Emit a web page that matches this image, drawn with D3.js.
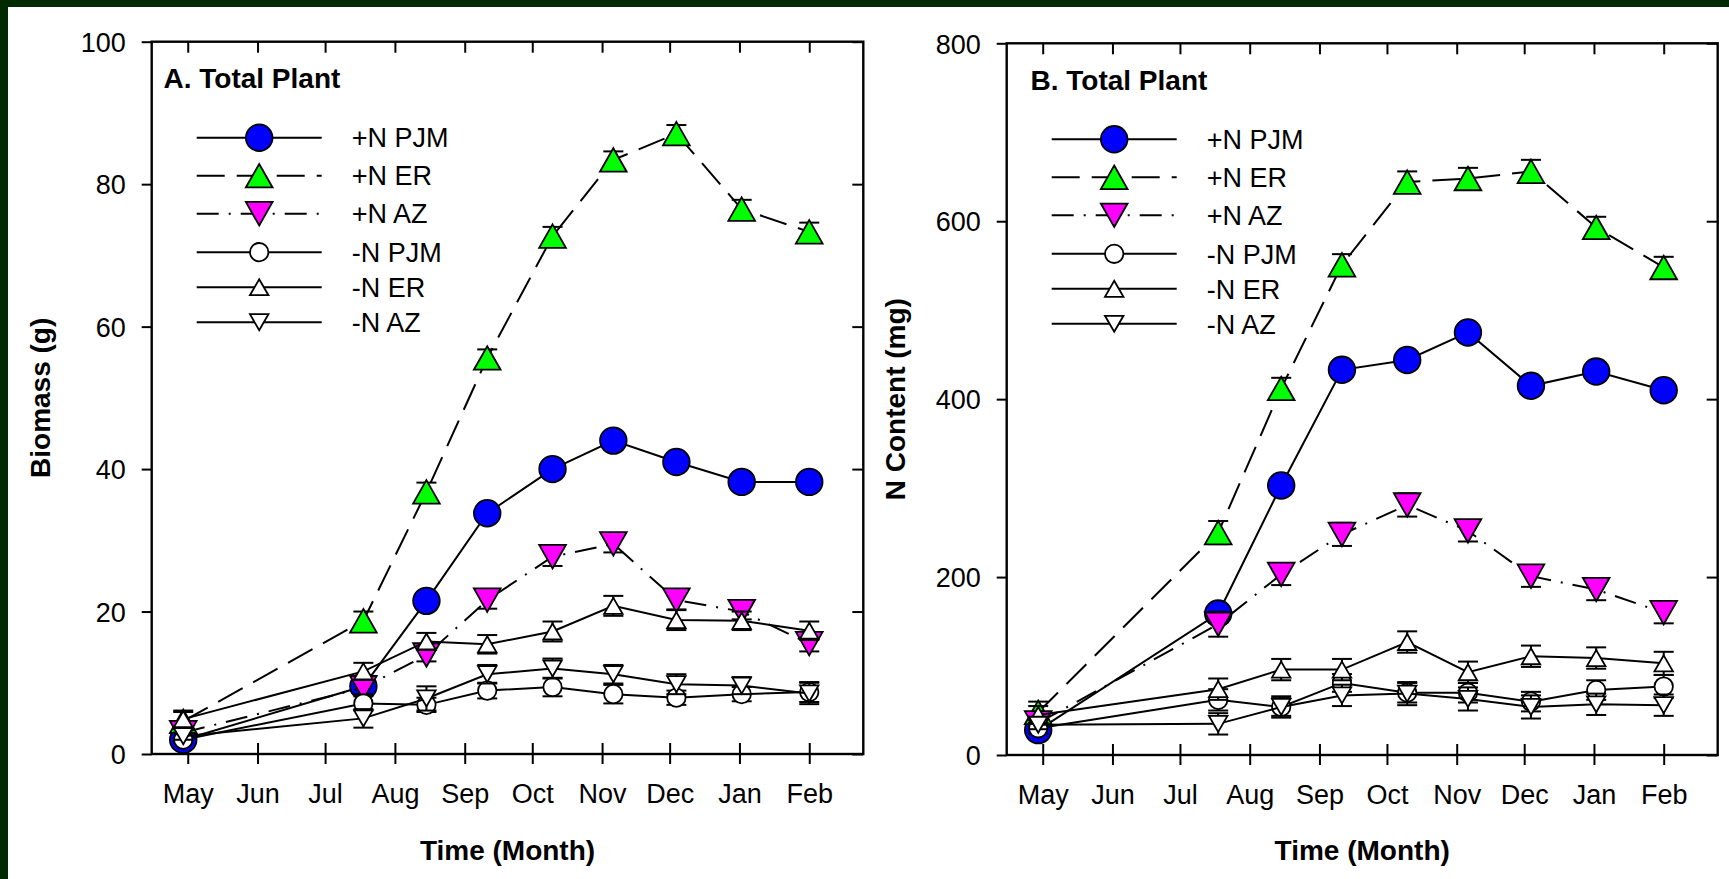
<!DOCTYPE html>
<html>
<head>
<meta charset="utf-8">
<script src="https://cdn.jsdelivr.net/npm/d3@7"></script>
<style>
  html, body { margin: 0; padding: 0; background: #ffffff; }
  svg { display: block; }
  text { font-family: "Liberation Sans", Arial, Helvetica, sans-serif; fill: #000; }
</style>
</head>
<body>
<svg id="fig" width="1729" height="879"></svg>
<script>
// ---- Sampling dates and axis labels ----
const monthLabels = ["May", "Jun", "Jul", "Aug", "Sep", "Oct", "Nov", "Dec", "Jan", "Feb"];
const sampleDates = ["2009-04-29", "2009-07-18", "2009-08-15", "2009-09-11", "2009-10-10",
                     "2009-11-06", "2009-12-04", "2010-01-02", "2010-02-01"];
const seriesNames = ["+N PJM", "+N ER", "+N AZ", "-N PJM", "-N ER", "-N AZ"];

// ---- A. Total plant biomass (g), mean and SE ----
const biomassTicks = [0, 20, 40, 60, 80, 100];
const biomassPlusPJM     = [2.0, 9.5, 21.5, 33.8, 40.0, 44.0, 41.0, 38.2, 38.2];
const biomassPlusPJMErr  = [0.3, 0.8, 1.0, 1.0, 1.1, 1.0, 1.0, 0.9, 0.9];
const biomassPlusER      = [4.6, 18.7, 36.8, 55.6, 72.7, 83.4, 87.1, 76.5, 73.3];
const biomassPlusERErr   = [1.3, 1.3, 1.3, 1.2, 1.3, 1.2, 1.2, 1.3, 1.3];
const biomassPlusAZ      = [3.0, 9.3, 13.9, 21.6, 27.7, 29.5, 21.6, 20.0, 15.5];
const biomassPlusAZErr   = [0.5, 0.9, 0.9, 1.2, 1.3, 1.2, 1.3, 1.1, 1.1];
const biomassMinusPJM    = [2.0, 7.1, 6.9, 8.9, 9.4, 8.4, 7.9, 8.4, 8.7];
const biomassMinusPJMErr = [0.4, 1.0, 1.0, 1.1, 1.3, 1.3, 1.0, 1.0, 1.4];
const biomassMinusER     = [4.9, 11.6, 15.8, 15.4, 17.2, 20.8, 18.8, 18.7, 17.3];
const biomassMinusERErr  = [1.2, 1.2, 1.2, 1.3, 1.4, 1.4, 1.4, 1.3, 1.3];
const biomassMinusAZ     = [2.5, 5.0, 7.8, 11.2, 12.0, 11.2, 9.8, 9.6, 8.5];
const biomassMinusAZErr  = [0.5, 1.3, 1.7, 1.3, 1.4, 1.3, 1.4, 1.2, 1.5];

// ---- B. Total plant N content (mg), mean and SE ----
const nContentTicks = [0, 200, 400, 600, 800];
const nPlusPJM     = [28, 159, 303, 433, 444, 475, 415, 431, 410];
const nPlusPJMErr  = [8, 10, 10, 10, 10, 10, 10, 10, 10];
const nPlusER      = [48, 250, 412, 551, 644, 648, 656, 593, 548];
const nPlusERErr   = [12, 13, 12, 12, 12, 12, 13, 12, 12];
const nPlusAZ      = [36, 147, 203, 248, 281, 252, 201, 186, 160];
const nPlusAZErr   = [6, 14, 12, 13, 13, 12, 12, 12, 12];
const nMinusPJM    = [30, 62, 54, 81, 70, 70, 60, 73, 77];
const nMinusPJMErr = [6, 12, 10, 10, 11, 11, 11, 11, 13];
const nMinusER     = [45, 74, 96, 96, 127, 93, 111, 109, 103];
const nMinusERErr  = [10, 12, 12, 12, 12, 12, 12, 12, 13];
const nMinusAZ     = [34, 35, 54, 67, 69, 63, 54, 57, 56];
const nMinusAZErr  = [5, 12, 12, 12, 13, 13, 13, 12, 12];

// ---- Series appearance (order = drawing order) ----
const seriesStyles = [
  { shape: "circle", size: "big",   fill: "#0000ff", dash: null },
  { shape: "up",     size: "big",   fill: "#00ff00", dash: "28,12" },
  { shape: "down",   size: "big",   fill: "#ff00ff", dash: "22,10,2,10" },
  { shape: "circle", size: "small", fill: "#ffffff", dash: null },
  { shape: "up",     size: "small", fill: "#ffffff", dash: null },
  { shape: "down",   size: "small", fill: "#ffffff", dash: null }
];

const parseDate = d3.timeParse("%Y-%m-%d");
const dates = sampleDates.map(parseDate);
const xDomain = [parseDate("2009-04-15"), parseDate("2010-02-25")];
const monthTicks = d3.timeMonth.range(parseDate("2009-05-01"), parseDate("2010-02-02"));

const svg = d3.select("#fig");
const W = 1729, H = 879;

// page background with dark frame strips on top and left
svg.append("rect").attr("x", 0).attr("y", 0).attr("width", W).attr("height", H).attr("fill", "#ffffff");
svg.append("rect").attr("x", 0).attr("y", 0).attr("width", W).attr("height", 7).attr("fill", "#002a02");
svg.append("rect").attr("x", 0).attr("y", 0).attr("width", 8).attr("height", H).attr("fill", "#002a02");

function markerPath(shape, w, h) {
  if (shape === "up") return `M0,${-h / 2}L${w / 2},${h / 2}L${-w / 2},${h / 2}Z`;
  return `M0,${h / 2}L${w / 2},${-h / 2}L${-w / 2},${-h / 2}Z`;
}
const markerDims = { big: { r: 13.3, w: 26.7, h: 23.5 }, small: { r: 9.2, w: 18.5, h: 16 } };

function drawMarker(g, style, cx, cy) {
  const dm = markerDims[style.size];
  if (style.shape === "circle") {
    g.append("circle").attr("cx", cx).attr("cy", cy).attr("r", dm.r)
      .attr("fill", style.fill).attr("stroke", "#000").attr("stroke-width", 1.8);
  } else {
    g.append("path").attr("d", markerPath(style.shape, dm.w, dm.h))
      .attr("transform", `translate(${cx},${cy})`)
      .attr("fill", style.fill).attr("stroke", "#000").attr("stroke-width", 1.8)
      .attr("stroke-linejoin", "miter");
  }
}

function drawPanel(cfg) {
  const x = d3.scaleTime().domain(xDomain).range([cfg.left, cfg.right]);
  const y = d3.scaleLinear().domain([0, cfg.yMax]).range([cfg.bottom, cfg.top]);
  const g = svg.append("g");

  // axes
  const fontAttrs = sel => sel.attr("font-size", 27).attr("font-family", '"Liberation Sans", Arial, sans-serif');

  const bottomAxis = g.append("g").attr("transform", `translate(0,${cfg.bottom})`)
    .call(d3.axisBottom(x).tickValues(monthTicks).tickFormat((d, i) => monthLabels[i]).tickSizeOuter(0).tickSize(10))
    .call(fontAttrs);
  bottomAxis.selectAll(".tick line").attr("y1", -11).attr("stroke-width", 2);
  bottomAxis.selectAll(".tick text").attr("y", 49).attr("dy", 0);
  bottomAxis.select(".domain").remove();

  const topAxis = g.append("g").attr("transform", `translate(0,${cfg.top})`)
    .call(d3.axisBottom(x).tickValues(monthTicks).tickFormat("").tickSizeOuter(0).tickSize(11));
  topAxis.selectAll(".tick line").attr("stroke-width", 2);
  topAxis.select(".domain").remove();

  const leftAxis = g.append("g").attr("transform", `translate(${cfg.left},0)`)
    .call(d3.axisLeft(y).tickValues(cfg.ticks).tickFormat(d3.format("d")).tickSizeOuter(0).tickSize(10).tickPadding(16))
    .call(fontAttrs);
  leftAxis.selectAll(".tick line").attr("stroke-width", 2);
  leftAxis.selectAll(".tick text").attr("dy", "0.36em");
  leftAxis.select(".domain").remove();

  const rightAxis = g.append("g").attr("transform", `translate(${cfg.right},0)`)
    .call(d3.axisLeft(y).tickValues(cfg.ticks).tickFormat("").tickSizeOuter(0).tickSize(-11));
  rightAxis.selectAll(".tick line").attr("x2", -11).attr("stroke-width", 2);
  rightAxis.select(".domain").remove();

  g.append("rect").attr("x", cfg.left).attr("y", cfg.top)
    .attr("width", cfg.right - cfg.left).attr("height", cfg.bottom - cfg.top)
    .attr("fill", "none").attr("stroke", "#000").attr("stroke-width", 2.4);

  // axis titles
  g.append("text").attr("x", (cfg.left + cfg.right) / 2).attr("y", 860)
    .attr("text-anchor", "middle").attr("font-size", 28).attr("font-weight", "bold")
    .text("Time (Month)");
  g.append("text")
    .attr("transform", `translate(${cfg.left - 101.5},${(cfg.top + cfg.bottom) / 2}) rotate(-90)`)
    .attr("text-anchor", "middle").attr("font-size", 28).attr("font-weight", "bold")
    .text(cfg.yTitle);

  // panel title
  g.append("text").attr("x", cfg.titleX).attr("y", cfg.top + 46.5)
    .attr("font-size", 28).attr("font-weight", "bold").text(cfg.title);

  // data series
  const line = d3.line().x(d => x(d.date)).y(d => y(d.v));
  cfg.series.forEach((s, si) => {
    const st = seriesStyles[si];
    const pts = s.values.map((v, i) => ({ date: dates[i], v, e: s.errors[i] }));
    const sg = g.append("g");
    sg.append("path").attr("d", line(pts)).attr("fill", "none")
      .attr("stroke", "#000").attr("stroke-width", 2)
      .attr("stroke-dasharray", st.dash);
    pts.forEach(p => {
      const cx = x(p.date), y0 = y(p.v - p.e), y1 = y(p.v + p.e);
      sg.append("line").attr("x1", cx).attr("x2", cx).attr("y1", y0).attr("y2", y1)
        .attr("stroke", "#000").attr("stroke-width", 2);
      [y0, y1].forEach(cy => sg.append("line").attr("x1", cx - 10).attr("x2", cx + 10)
        .attr("y1", cy).attr("y2", cy).attr("stroke", "#000").attr("stroke-width", 2));
    });
    pts.forEach(p => drawMarker(sg, st, x(p.date), y(p.v)));
  });

  // legend
  const rowOffsets = [96, 134, 172, 210.5, 245.5, 280.5];
  seriesNames.forEach((name, i) => {
    const st = seriesStyles[i];
    const ry = cfg.top + rowOffsets[i];
    const lg = g.append("g");
    lg.append("line").attr("x1", cfg.left + 45).attr("x2", cfg.left + 170)
      .attr("y1", ry).attr("y2", ry).attr("stroke", "#000").attr("stroke-width", 2)
      .attr("stroke-dasharray", st.dash);
    drawMarker(lg, st, cfg.left + 107.5, ry);
    lg.append("text").attr("x", cfg.left + 200).attr("y", ry).attr("dy", "0.36em")
      .attr("font-size", 27).text(name);
  });
}

drawPanel({
  left: 151.7, right: 863.3, top: 41.7, bottom: 754,
  yMax: 100, ticks: biomassTicks, yTitle: "Biomass (g)",
  title: "A. Total Plant", titleX: 163.5,
  series: [
    { values: biomassPlusPJM, errors: biomassPlusPJMErr },
    { values: biomassPlusER, errors: biomassPlusERErr },
    { values: biomassPlusAZ, errors: biomassPlusAZErr },
    { values: biomassMinusPJM, errors: biomassMinusPJMErr },
    { values: biomassMinusER, errors: biomassMinusERErr },
    { values: biomassMinusAZ, errors: biomassMinusAZErr }
  ]
});

drawPanel({
  left: 1006.7, right: 1717.7, top: 43.3, bottom: 755,
  yMax: 800, ticks: nContentTicks, yTitle: "N Content (mg)",
  title: "B. Total Plant", titleX: 1030.5,
  series: [
    { values: nPlusPJM, errors: nPlusPJMErr },
    { values: nPlusER, errors: nPlusERErr },
    { values: nPlusAZ, errors: nPlusAZErr },
    { values: nMinusPJM, errors: nMinusPJMErr },
    { values: nMinusER, errors: nMinusERErr },
    { values: nMinusAZ, errors: nMinusAZErr }
  ]
});
</script>
</body>
</html>
